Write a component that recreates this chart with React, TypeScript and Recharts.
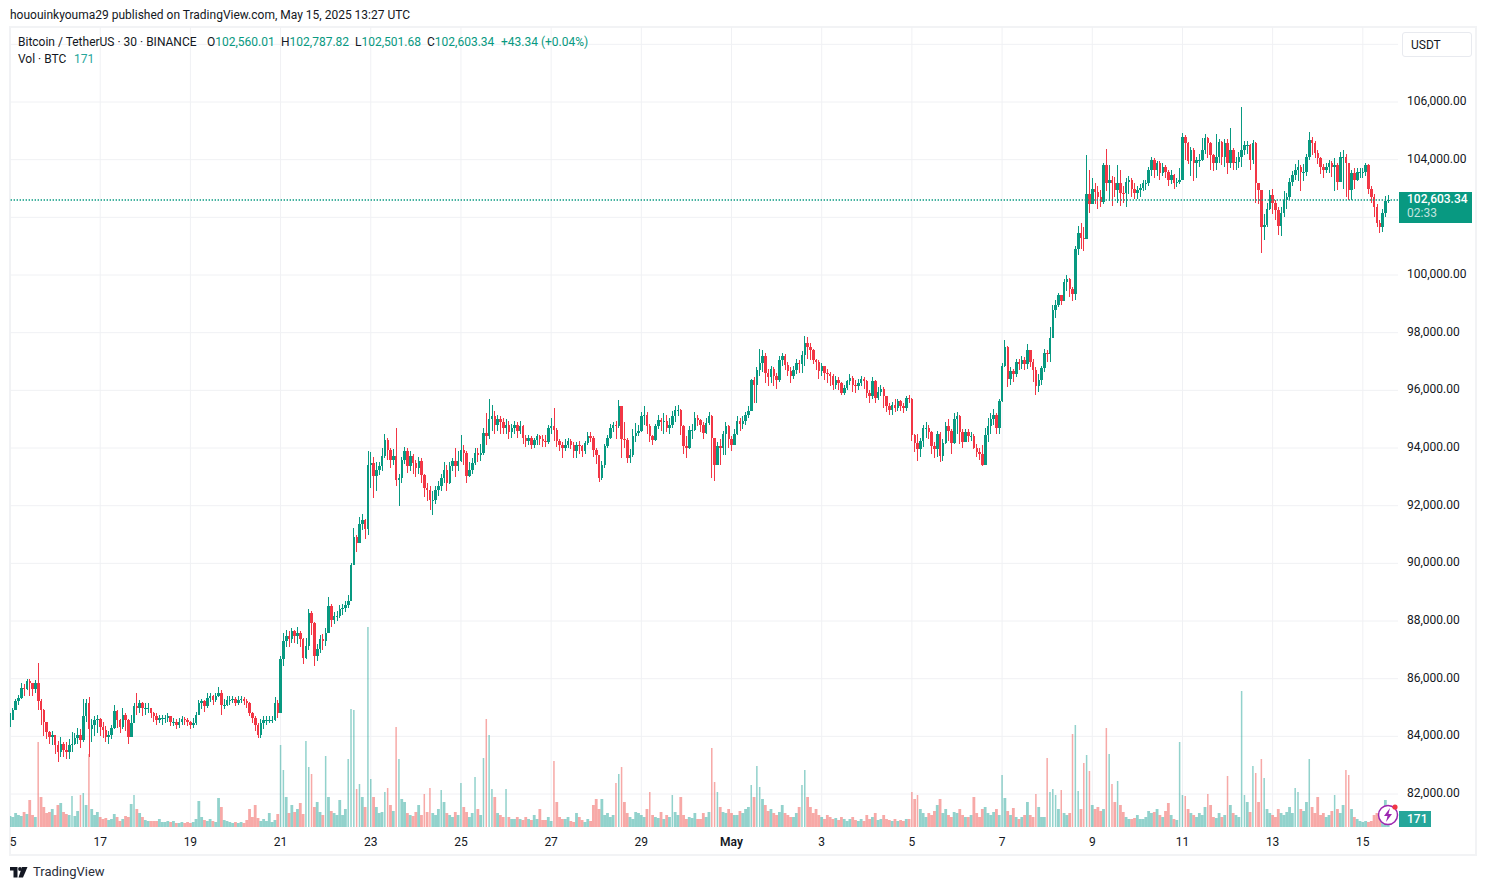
import React from 'react';
import { ComposedChart, Bar, XAxis, YAxis, CartesianGrid, ReferenceLine } from 'recharts';

const UP = '#089981';
const DOWN = '#f23645';
const FONT = 'Roboto, sans-serif';

const firstOpen = 84400;
const lastPrice = 102603.34;
const barDays = 0.0625; // one drawn bar = 1.5 hours

const closes = [
  84570,84920,85220,85330,85680,85630,85920,85860,85630,85860,85220,84920,84510,84160,83990,84050,
  83700,83460,83750,83520,83460,83700,83750,83930,84050,83870,84690,85160,84250,84400,84570,84600,
  84340,84220,83990,84050,84280,84870,84570,84340,84750,84570,83990,84460,85040,84980,85160,84980,
  84980,84980,84810,84710,84570,84630,84630,84630,84690,84510,84510,84400,84510,84600,84570,84510,
  84400,84460,84750,85160,85220,85040,85330,85390,85270,85390,85510,85100,85100,85270,85270,85300,
  85160,85270,85300,85220,85160,84810,84630,84400,84050,84460,84570,84570,84570,84570,85160,84810,
  86670,87300,87480,87360,87650,87480,87590,87360,86730,87130,88280,87940,86780,87020,87360,87300,
  87590,88520,88050,88170,88170,88400,88460,88570,88690,89950,90900,90700,91350,91500,91200,93400,
  93480,93020,93250,93360,93710,94290,93940,93590,93710,92900,92960,93590,93880,93360,93710,93480,
  93300,93540,93070,92610,92550,92200,92200,92550,92670,92960,93250,92790,93360,93540,93360,93540,
  93940,93820,93020,93250,93480,93820,93770,93820,94520,94400,95000,95100,94800,95000,94900,94700,
  94800,94550,94700,94800,94600,94750,94350,94230,94350,94120,94290,94400,94300,94250,94200,94700,
  94750,94640,94230,94120,94000,94120,94230,94120,93880,94120,94060,93880,94170,94400,94350,93940,
  93770,92950,93420,94060,94350,94700,94810,94750,95450,94300,94290,93650,93770,94400,94520,94580,
  95100,95160,94750,94400,94290,94750,94980,94900,94930,94700,94810,95100,95330,95330,94750,94060,
  94000,94640,94640,95040,94980,94810,94520,94870,95100,94350,93400,94060,94000,94500,94750,94300,
  94120,94500,94950,94850,94930,95150,95300,96350,96200,96700,96950,97180,96600,96450,96750,96500,
  96350,97060,97180,96890,96660,96490,96720,96950,96900,97240,97640,97520,97400,97060,97000,96660,
  96830,96600,96550,96490,96200,96370,96250,95910,96080,96310,96430,96200,96140,96250,96390,96310,
  95910,95790,96310,95730,95950,96050,95800,95450,95330,95500,95400,95620,95450,95400,95730,95700,
  94460,94170,93950,94250,94700,94700,94550,94060,93950,94500,93710,94170,94750,94600,94170,95000,
  95100,94550,94200,94550,94400,94400,94000,93850,93800,93400,94450,94750,95000,95150,94700,95620,
  96830,97520,96400,96660,96550,96990,96900,97060,96900,97410,97000,96720,96140,96370,96770,97300,
  97250,97800,98800,98950,99300,99100,99750,99850,99500,99350,100900,101450,101300,101250,102800,102450,
  103000,102890,102720,102540,103800,103200,103290,103180,102950,103180,102850,102830,103240,103290,103000,102830,
  102950,103010,103180,103180,103640,103990,103640,103870,103530,103760,103580,103290,103470,103180,103240,103290,
  104800,104570,103950,104340,103870,103990,104000,104340,104740,104570,104160,103870,104100,104620,104100,104570,
  103870,104340,103900,103930,104100,104340,104510,104510,103990,104570,103180,102950,101680,101750,102300,
  102770,102500,102250,101700,102140,102600,102720,103240,103470,103640,103760,103580,103580,104100,104680,104570,
  104220,104050,103760,103640,103760,103870,103760,103820,103240,104100,104100,103870,102950,103530,103290,103580,
  103580,103580,103820,103000,102720,102350,101790,101680,102140,102560,102603.34,
];

const highs = [
  84800,85000,85300,85450,85850,85800,86000,86000,85800,85950,86540,85300,84950,84500,84200,84200,
  84050,83850,83990,83800,83800,83900,84150,84100,84300,84250,85300,85300,85350,84600,84700,84750,
  84650,84500,84350,84200,84400,85100,84900,84600,85000,84800,84600,84750,85150,85500,85250,85200,
  85150,85150,85000,84850,84800,84750,84750,84750,84800,84700,84650,84600,84650,84700,84680,84650,
  84550,84650,84850,85250,85300,85270,85500,85500,85450,85500,85700,85600,85300,85400,85400,85400,
  85350,85400,85400,85350,85280,85200,84850,84700,84450,84600,84700,84700,84700,84700,85350,85250,
  86800,87600,87700,87650,87750,87700,87800,87650,87400,87400,88400,88350,87950,87200,87500,87550,
  87750,88850,88600,88300,88350,88550,88600,88700,88900,90000,91240,91000,91600,91700,91550,93900,
  93850,93700,93500,93500,94000,94500,94350,94000,93950,94690,93100,93700,94050,94000,93900,93800,
  93600,93700,93650,93100,92800,92700,92500,92700,92850,93100,93500,93400,93500,93650,94000,93900,
  94460,94100,93900,93500,93650,94000,94000,94150,94700,95200,95700,95500,95300,95150,95100,95050,
  95000,94950,94850,94950,94900,94950,94800,94450,94450,94400,94350,94500,94450,94450,94450,94800,
  95040,95390,94700,94300,94200,94300,94350,94300,94200,94200,94250,94100,94250,94550,94550,94400,
  94000,93450,93550,94150,94450,94850,94900,94950,95650,95400,94900,94350,93950,94650,94880,94800,
  95250,95470,95250,94850,94450,94850,95150,95050,95200,95150,95050,95300,95470,95480,95350,94800,
  94400,94750,94850,95250,95150,95000,94900,95050,95240,95150,94350,94200,94300,94600,94900,94800,
  94400,94650,95100,95050,95100,95250,95450,96400,96450,96800,97450,97400,97300,96750,96850,96800,
  96600,97200,97300,97250,97000,96800,96850,97100,97050,97350,97900,97850,97650,97450,97100,97050,
  96950,96850,96750,96650,96550,96500,96450,96300,96200,96350,96550,96500,96350,96400,96500,96450,
  96350,96000,96450,96350,96100,96200,96100,95800,95550,95600,95700,95700,95680,95550,95800,95830,
  95750,94500,94500,94350,94800,94900,94800,94600,94200,94600,94550,94300,94900,95000,94650,95200,
  95250,95150,94650,94650,94650,94550,94500,94150,94000,94100,94700,95050,95200,95350,95200,95700,
  96950,97760,97550,96800,96750,97100,97100,97200,97150,97600,97400,97100,96800,96550,96850,97450,
  97400,98200,98950,99150,99380,99300,99850,100000,99900,99600,101000,101700,101800,101650,104160,103650,
  103350,103200,103100,102950,103900,104360,103800,103450,103400,103800,103650,103100,103350,103450,103350,103200,
  103100,103150,103300,103300,103750,104090,104050,103950,103950,103870,103800,103650,103650,103500,103350,103700,
  104910,104850,104600,104450,104400,104100,104200,104750,104900,104800,104600,104200,104900,104720,104650,104700,
  104700,105090,104400,104100,104250,105815,104650,104650,104550,104680,104600,103200,102700,102100,102500,
  102950,103000,102600,102350,102350,102900,102850,103350,103600,103850,103980,103800,103850,104200,104970,104800,
  104650,104350,104100,103850,103900,104000,103950,104050,103900,104250,104350,104200,103900,103650,103700,103700,
  103700,103700,103900,103850,103100,102800,102450,101900,102300,102750,102787.82,
];

const lows = [
  84330,84570,84900,85100,85300,85400,85600,85400,85400,85500,84900,84400,84000,83900,83750,83700,
  83400,83110,83300,83300,83200,83200,83450,83700,83750,83600,83800,84500,83300,83800,84000,84100,
  84000,83950,83800,83750,83900,84250,84300,84100,84250,84200,83750,83990,84450,84750,84800,84700,
  84750,84800,84650,84500,84400,84450,84400,84450,84500,84350,84350,84250,84300,84400,84400,84350,
  84250,84300,84400,84750,84950,84850,85000,85200,85100,85200,85350,84750,84950,85050,85100,85150,
  85050,85100,85150,85100,85000,84700,84450,84200,83930,83930,84250,84400,84450,84450,84550,84650,
  84900,86450,87100,87100,87250,87250,87200,87100,86500,86700,87000,87500,86430,86600,86900,87000,
  87150,87600,87800,87900,88000,88100,88200,88300,88450,88700,89950,90400,90700,91150,90850,91000,
  92600,92250,92500,93050,93200,93650,93600,93300,93400,92700,91980,92800,93450,93150,93200,93100,
  93000,93100,92800,92300,92150,91850,91690,92050,92350,92500,92800,92500,92750,93200,93000,93200,
  93500,93400,92800,93000,93100,93400,93500,93550,93750,94100,94300,94600,94500,94600,94500,94500,
  94500,94300,94350,94500,94350,94500,94150,94050,94100,93950,94000,94100,94100,94050,94050,94150,
  94500,94250,94050,93900,93650,93900,94000,93950,93650,93650,93800,93700,93800,94100,94200,93700,
  93450,92810,92900,93300,94000,94300,94550,94300,94700,93650,94000,93480,93470,93700,94200,94400,
  94550,94800,94500,94200,94100,94250,94650,94600,94500,94550,94500,94700,94900,95100,94450,93800,
  93650,93950,94300,94600,94750,94550,94300,94500,94800,92960,92850,93450,93400,93750,93770,94000,
  93900,94100,94450,94600,94650,94800,95050,95300,95550,95550,96500,96650,96250,96150,96250,96150,
  96050,96300,96850,96700,96500,96250,96400,96550,96600,96600,96850,97100,97050,96900,96700,96400,
  96500,96350,96250,96150,96000,96050,96000,95850,95850,96000,96200,95950,95900,96000,96150,96050,
  95750,95550,95700,95550,95650,95800,95400,95250,95150,95150,95250,95300,95300,95200,95300,95550,
  94250,93850,93540,93700,94050,94350,94300,93800,93650,93700,93500,93550,94150,94250,93800,94150,
  94500,94150,94000,94200,94200,94250,93950,93700,93600,93390,93400,94200,94500,94800,94500,94500,
  95600,96800,96100,96200,96300,96450,96700,96750,96700,96750,96800,96300,95850,95950,96200,96650,
  97000,97000,97900,98500,98900,98950,99100,99450,99250,99100,99150,100700,100900,100850,101300,102150,
  102450,102450,102300,102350,102450,102900,102550,102400,102700,102500,102400,102500,102350,102800,102700,102650,
  102650,102700,102900,102950,103100,103450,103350,103450,103300,103450,103350,103100,103150,103000,103050,103150,
  103290,103990,103850,103450,103250,103380,103750,103950,104200,104050,103650,103600,103650,103900,103800,103750,
  103500,103700,103650,103650,103700,103750,104150,104200,103650,103850,102500,102450,100750,101200,101650,102250,
  102100,101900,101400,101350,102000,102300,102600,103100,103300,103250,102900,103250,103450,104000,104150,104050,
  103850,103500,103350,103550,103550,103400,102900,102950,103450,103000,102700,102600,102600,103000,103250,103350,
  103350,103450,102800,102500,102000,101650,101450,101500,102000,102501.68,
];

const volumes = [
  440,400,560,480,440,600,520,1080,480,400,3400,1200,800,560,600,720,
  480,880,960,600,520,480,1240,440,640,1280,1360,880,2920,720,480,600,
  400,320,360,280,320,520,400,240,320,440,400,920,1280,720,560,400,
  280,240,240,240,240,320,200,200,240,200,240,160,160,200,160,200,
  160,200,320,1040,400,280,240,320,240,200,1160,800,280,240,200,160,
  200,160,200,160,280,720,400,880,360,240,320,240,560,200,280,520,
  3280,2280,1200,560,880,600,720,960,520,3440,2400,2120,800,1000,600,480,
  2840,1200,640,560,480,1080,480,720,2720,4720,4680,1520,1720,1200,800,8000,
  1920,1200,800,560,600,1400,1560,880,640,4000,2720,1120,1000,560,480,440,
  600,880,480,1320,600,1560,560,480,720,1480,1000,560,480,400,600,480,
  1760,800,600,400,560,2000,720,480,2760,4320,3680,1520,1200,560,480,400,
  1520,400,320,320,400,320,280,400,320,280,480,320,720,280,280,400,
  240,2640,1000,400,320,320,400,240,200,560,400,280,200,320,240,880,
  1120,720,1120,480,560,400,480,1760,2120,2400,1000,560,400,320,600,560,
  480,400,720,1400,480,400,360,600,320,480,400,1280,600,480,1200,480,
  320,400,360,560,320,320,560,400,600,3160,1800,1400,800,600,560,720,
  560,480,480,640,560,720,800,1680,1200,2440,1600,1120,880,640,720,560,
  480,600,880,560,480,400,400,560,800,1680,2280,1200,800,560,720,480,
  400,320,480,400,320,360,280,400,320,240,320,400,280,240,320,240,
  480,320,400,560,280,320,480,320,280,240,320,240,280,240,320,320,
  1400,1120,1280,720,560,400,560,480,640,880,1120,560,720,480,400,600,
  560,720,480,400,400,480,1200,560,400,720,800,560,480,600,720,480,
  2080,1160,640,480,760,400,320,400,480,1000,480,400,1320,800,400,400,
  2760,1400,1520,1280,720,1480,560,480,560,3720,4080,1440,720,2560,2880,2240,
  880,720,800,640,720,3960,2920,1720,1000,1840,880,600,400,320,320,360,
  480,320,320,400,640,560,600,720,480,400,640,960,480,320,280,3400,
  1280,1240,720,560,480,400,560,480,800,1320,880,400,360,560,400,480,
  2040,880,560,480,400,5440,1280,1000,600,2440,2160,1000,2720,1960,720,560,
  480,400,720,560,480,600,800,560,1560,1400,720,640,1000,2720,800,560,
  1200,480,560,400,480,640,1280,720,560,880,2280,2080,720,400,320,240,
  200,240,200,240,480,560,400,640,1080,171,
];

const priceTicks = [82000,84000,86000,88000,90000,92000,94000,96000,98000,100000,102000,104000,106000,108000];
const hiddenPriceLabels = [102000,108000];
const dayTicks = [0,2,4,6,8,10,12,14,16,18,20,22,24,26,28,30];
const dayLabels = ['5','17','19','21','23','25','27','29','May','3','5','7','9','11','13','15'];

const table = closes.map((close, i) => ({
  t: i * barDays,
  open: i === 0 ? firstOpen : closes[i - 1],
  close,
  range: [lows[i], highs[i]],
  volume: volumes[i],
}));

const CandleShape = (props: any) => {
  const { x, y, width, height, payload } = props;
  const [low, high] = payload.range;
  const perUnit = height / (high - low);
  const top = y + (high - Math.max(payload.open, payload.close)) * perUnit;
  const bottom = y + (high - Math.min(payload.open, payload.close)) * perUnit;
  const color = payload.close >= payload.open ? UP : DOWN;
  const mid = x + width / 2;
  return (
    <g shapeRendering="crispEdges">
      <rect x={Math.round(mid)} y={y} width={1} height={height} fill={color} />
      <rect x={mid - 0.75} y={top} width={2.5} height={Math.max(bottom - top, 1)} fill={color} />
    </g>
  );
};

// tall spikes stay thin, the low mass stays solid
const VolumeShape = (props: any) => {
  const { x, y, width, height, payload } = props;
  const color = payload.close >= payload.open ? 'rgba(38,166,154,0.5)' : 'rgba(239,83,80,0.5)';
  const w = height > 30 ? 1.5 : width;
  return <rect x={x + (width - w) / 2} y={y} width={w} height={height} fill={color} />;
};

const PriceTick = (props: any) => {
  const { x, y, payload } = props;
  if (hiddenPriceLabels.includes(payload.value)) return null;
  const label = payload.value.toLocaleString('en-US', { minimumFractionDigits: 2 });
  return (
    <text x={x + 1} y={y + 3} fontSize={12} fontFamily={FONT} fill="#131722">{label}</text>
  );
};

const DayTick = (props: any) => {
  const { x, y, payload } = props;
  const label = dayLabels[dayTicks.indexOf(payload.value)];
  return (
    <text
      x={payload.value === 0 ? x + 3 : x}
      y={y + 11}
      fontSize={12}
      fontFamily={FONT}
      fontWeight={label === 'May' ? 600 : 400}
      fill="#131722"
      textAnchor="middle"
    >
      {label}
    </text>
  );
};

const abs = (left: number, top: number, style: React.CSSProperties = {}): React.CSSProperties => ({
  position: 'absolute',
  left,
  top,
  whiteSpace: 'nowrap',
  lineHeight: '16px',
  ...style,
});

export default function App() {
  return (
    <div style={{ position: 'absolute', left: 0, top: 0, width: 1486, height: 890, background: '#fff', fontFamily: FONT, fontSize: 12, color: '#131722', overflow: 'hidden' }}>
      <div style={{ position: 'absolute', left: 9, top: 26, width: 1464, height: 826, border: '2px solid #f2f3f5' }} />
      <div style={{ position: 'absolute', left: 0, top: 0 }}>
        <ComposedChart
          width={1486}
          height={890}
          data={table}
          margin={{ top: 27, right: 0, bottom: 0, left: 10 }}
        >
          <CartesianGrid stroke="#f0f1f4" syncWithTicks />
          <XAxis
            dataKey="t"
            type="number"
            domain={[0, 30.78]}
            ticks={dayTicks}
            tick={<DayTick />}
            tickLine={false}
            axisLine={false}
            allowDataOverflow
            height={63}
          />
          <XAxis xAxisId="vol" dataKey="t" type="number" domain={[0, 30.78]} ticks={dayTicks} hide allowDataOverflow />
          <YAxis
            orientation="right"
            domain={[80857, 108601]}
            ticks={priceTicks}
            tick={<PriceTick />}
            tickLine={false}
            axisLine={false}
            allowDataOverflow
            width={88}
          />
          <YAxis yAxisId="vol" domain={[0, 32000]} hide allowDataOverflow />
          <Bar dataKey="volume" xAxisId="vol" yAxisId="vol" barSize={2.8} shape={VolumeShape} isAnimationActive={false} />
          <Bar dataKey="range" barSize={2} shape={CandleShape} isAnimationActive={false} />
          <ReferenceLine y={lastPrice} stroke={UP} strokeWidth={1.4} strokeDasharray="1.4 1.6" />
        </ComposedChart>
      </div>

      <div style={abs(10, 7)}>hououinkyouma29 published on TradingView.com, May 15, 2025 13:27 UTC</div>
      <div style={abs(18, 34)}>Bitcoin / TetherUS · 30 · BINANCE</div>
      <div style={abs(207, 34)}>O<span style={{ color: UP }}>102,560.01</span></div>
      <div style={abs(281, 34)}>H<span style={{ color: UP }}>102,787.82</span></div>
      <div style={abs(355, 34)}>L<span style={{ color: UP }}>102,501.68</span></div>
      <div style={abs(427, 34)}>C<span style={{ color: UP }}>102,603.34</span></div>
      <div style={abs(501, 34, { color: UP })}>+43.34 (+0.04%)</div>
      <div style={abs(18, 51)}>Vol · BTC</div>
      <div style={abs(74, 51, { color: '#26a69a' })}>171</div>

      <div style={{ ...abs(1402, 32), width: 70, height: 25, lineHeight: '25px', paddingLeft: 8, boxSizing: 'border-box', background: '#fff', border: '1px solid #e8eaef', borderRadius: 3 }}>USDT</div>

      <div style={{ position: 'absolute', left: 1399, top: 192, width: 73, height: 31, background: UP }} />
      <div style={abs(1407, 191, { color: '#fff', fontWeight: 500 })}>102,603.34</div>
      <div style={abs(1407, 205, { color: 'rgba(255,255,255,0.75)' })}>02:33</div>

      <div style={{ position: 'absolute', left: 1399, top: 811, width: 32, height: 16, background: '#26a69a' }} />
      <div style={abs(1407, 811, { color: '#fff', fontWeight: 500 })}>171</div>

      <svg style={{ position: 'absolute', left: 0, top: 0, pointerEvents: 'none' }} width={1486} height={890}>
        <circle cx={1388} cy={815} r={9.5} fill="#fff" stroke="#9c27b0" strokeWidth={1.5} />
        <polygon points="1390,808 1384,816 1387.5,816 1386,822 1392,814 1388.5,814" fill="#9c27b0" />
        <circle cx={1395} cy={807} r={2.6} fill={DOWN} />
        <polygon points="10,867 17.5,867 17.5,877.5 13.5,877.5 13.5,870.5 10,870.5" fill="#131722" />
        <circle cx={20} cy={869} r={1.9} fill="#131722" />
        <polygon points="22,867 27.5,867 23,877.5 18.5,877.5" fill="#131722" />
      </svg>
      <div style={abs(33, 864, { fontSize: 13, color: '#2a2e39' })}>TradingView</div>
    </div>
  );
}
